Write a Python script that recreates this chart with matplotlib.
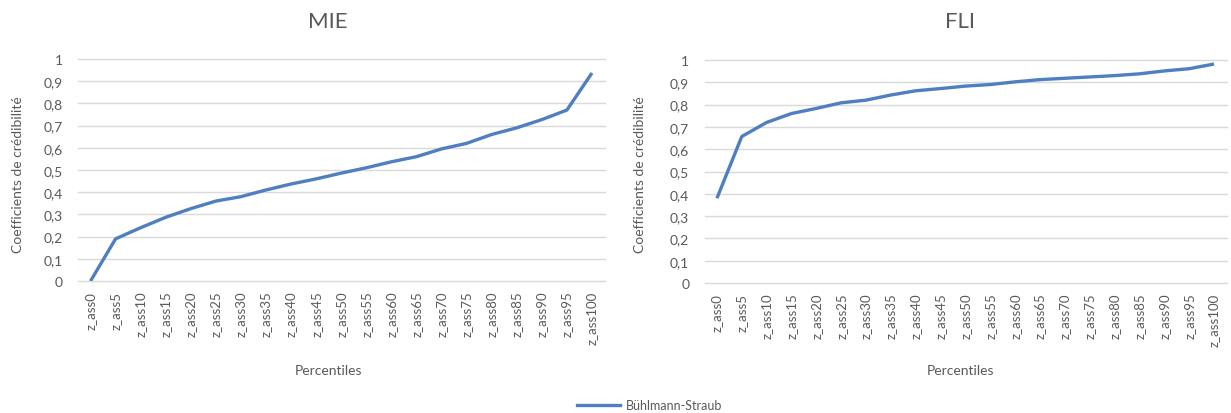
import matplotlib
matplotlib.use("Agg")
import matplotlib.pyplot as plt
from matplotlib.ticker import FixedLocator, FuncFormatter
from matplotlib.lines import Line2D

plt.rcParams['font.family'] = ['Lato', 'DejaVu Sans']

# Percentile categories
percentiles = [f"z_ass{p}" for p in range(0, 101, 5)]

# Credibility coefficients (Bühlmann-Straub) per percentile
mie_values = [0.00, 0.19, 0.24, 0.287, 0.326, 0.36, 0.38, 0.41, 0.437, 0.46,
              0.486, 0.51, 0.537, 0.56, 0.595, 0.62, 0.66, 0.69, 0.727, 0.77, 0.937]
fli_values = [0.38, 0.657, 0.72, 0.76, 0.783, 0.808, 0.82, 0.843, 0.862, 0.872,
              0.883, 0.89, 0.902, 0.912, 0.918, 0.924, 0.93, 0.938, 0.951, 0.961, 0.982]

y_ticks = [i / 10 for i in range(11)]

LINE_COLOR = "#4F7FC0"
TEXT_COLOR = "#595959"
GRID_COLOR = "#D9D9D9"

W, H = 1231, 414
fig = plt.figure(figsize=(W / 100, H / 100), dpi=100)
fig.patch.set_facecolor("white")


def fmt(v, _pos):
    if abs(v) < 1e-9:
        return "0"
    if abs(v - 1) < 1e-9:
        return "1"
    return f"{v:.1f}".replace(".", ",")


def make_panel(rect, values, title, title_x, ylabel_x):
    ax = fig.add_axes(rect)
    x = range(len(percentiles))
    ax.plot(x, values, color=LINE_COLOR, linewidth=2.4, solid_capstyle="butt", zorder=3)
    ax.set_xlim(-0.5, len(percentiles) - 0.5)
    ax.set_ylim(0, 1)
    ax.set_xticks(list(x))
    ax.set_xticklabels(percentiles, rotation=90, fontsize=9.5, color=TEXT_COLOR)
    ax.yaxis.set_major_locator(FixedLocator(y_ticks))
    ax.yaxis.set_major_formatter(FuncFormatter(fmt))
    ax.tick_params(axis="y", labelsize=10, labelcolor=TEXT_COLOR, length=0, pad=11)
    ax.tick_params(axis="x", length=0, pad=7)
    for s in ax.spines.values():
        s.set_visible(False)
    for t in y_ticks:
        ax.axhline(t, color=GRID_COLOR, linewidth=1.0, zorder=1, clip_on=False)
    fig.text(title_x / W, 1 - 22 / H, title, ha="center", va="center",
             fontsize=16, color=TEXT_COLOR)
    fig.text(title_x / W, 1 - 371 / H, "Percentiles", ha="center", va="center",
             fontsize=10, color=TEXT_COLOR)
    fig.text(ylabel_x / W, 1 - 175 / H, "Coefficients de crédibilité", ha="center",
             va="center", rotation=90, fontsize=10, color=TEXT_COLOR)
    return ax


make_panel([78 / W, 1 - 282 / H, 526.5 / W, 222 / H], mie_values, "MIE", 328, 18)
make_panel([704.5 / W, 1 - 284 / H, 522 / W, 223 / H], fli_values, "FLI", 960, 640)

# Shared legend at the bottom
handle = Line2D([], [], color=LINE_COLOR, linewidth=2.4)
fig.legend([handle], ["Bühlmann-Straub"], loc="center", bbox_to_anchor=(650 / W, 1 - 406 / H),
           frameon=False, fontsize=9, labelcolor=TEXT_COLOR, handlelength=3.4,
           handletextpad=0.5)

fig.savefig("out.png", dpi=100, facecolor="white")
